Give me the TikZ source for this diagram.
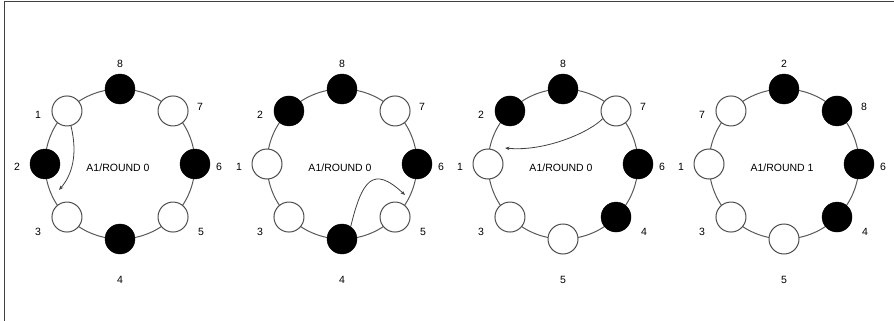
\documentclass[tikz,border=0pt]{standalone}
\usepackage{fontspec}
\setmainfont{Liberation Sans}
\usetikzlibrary{arrows.meta}
\begin{document}
\begin{tikzpicture}[x=1pt,y=1pt,
  ring/.style={draw=black!65, line width=1pt},
  wn/.style={circle, draw=black!70, line width=1pt, fill=white, minimum size=30pt, inner sep=0pt},
  bn/.style={circle, draw=black, fill=black, minimum size=30pt, inner sep=0pt},
  lab/.style={font=\fontsize{10.5}{12}\selectfont, inner sep=0pt, text=black},
  ttl/.style={font=\fontsize{10.5}{12}\selectfont, inner sep=0pt, text=black},
  mv/.style={draw=black!75, line width=0.8pt, -{Stealth[length=4.5pt,width=3.5pt]}},
  frame/.style={draw=black!75, line width=1pt}]
\useasboundingbox (0,0) rectangle (894,-321);
\coordinate (fa) at (4,-321);
\coordinate (fb) at (4,-1.5);
\coordinate (fc) at (894,-1.5);
\draw[frame] (fa) -- (fb) -- (fc);

% Panel 1
\begin{scope}[shift={(120,-164)}]
  \draw[ring] (0,0) circle (75);
  \node[bn] (a8) at (90:75) {};
  \node[wn] (a1) at (135:75) {};
  \node[bn] (a2) at (180:75) {};
  \node[wn] (a3) at (225:75) {};
  \node[bn] (a4) at (270:75) {};
  \node[wn] (a5) at (315:75) {};
  \node[bn] (a6) at (0:75) {};
  \node[wn] (a7) at (45:75) {};
  \node[lab] (a8l) at (0,100) {8};
  \node[lab] (a1l) at (-82,49) {1};
  \node[lab] (a2l) at (-103,-3) {2};
  \node[lab] (a3l) at (-82,-68) {3};
  \node[lab] (a4l) at (0,-116) {4};
  \node[lab] (a5l) at (81,-68) {5};
  \node[lab] (a6l) at (99,-3) {6};
  \node[lab] (a7l) at (80,57) {7};
  \node[ttl] (at) at (-2,-4) {A1/ROUND 0};
  \coordinate (ae) at (-61,-26);
  \draw[mv] (a1.-75) .. controls (-42,9) and (-48,-11) .. (ae);
\end{scope}

% Panel 2
\begin{scope}[shift={(342,-164)}]
  \draw[ring] (0,0) circle (75);
  \node[bn] (b8) at (90:75) {};
  \node[bn] (b2) at (135:75) {};
  \node[wn] (b1) at (180:75) {};
  \node[wn] (b3) at (225:75) {};
  \node[bn] (b4) at (270:75) {};
  \node[wn] (b5) at (315:75) {};
  \node[bn] (b6) at (0:75) {};
  \node[wn] (b7) at (45:75) {};
  \node[lab] (b8l) at (0,100) {8};
  \node[lab] (b2l) at (-82,49) {2};
  \node[lab] (b1l) at (-103,-3) {1};
  \node[lab] (b3l) at (-82,-68) {3};
  \node[lab] (b4l) at (0,-116) {4};
  \node[lab] (b5l) at (81,-68) {5};
  \node[lab] (b6l) at (99,-3) {6};
  \node[lab] (b7l) at (80,57) {7};
  \node[ttl] (bt) at (-2,-4) {A1/ROUND 0};
  \coordinate (be) at (63,-31);
  \draw[mv] (b4.55) .. controls (20,-16) and (31,-1) .. (be);
\end{scope}

% Panel 3
\begin{scope}[shift={(563,-164)}]
  \draw[ring] (0,0) circle (75);
  \node[bn] (c8) at (90:75) {};
  \node[bn] (c2) at (135:75) {};
  \node[wn] (c1) at (180:75) {};
  \node[wn] (c3) at (225:75) {};
  \node[wn] (c5) at (270:75) {};
  \node[bn] (c4) at (315:75) {};
  \node[bn] (c6) at (0:75) {};
  \node[wn] (c7) at (45:75) {};
  \node[lab] (c8l) at (0,100) {8};
  \node[lab] (c2l) at (-82,49) {2};
  \node[lab] (c1l) at (-103,-3) {1};
  \node[lab] (c3l) at (-82,-68) {3};
  \node[lab] (c5l) at (0,-116) {5};
  \node[lab] (c4l) at (81,-68) {4};
  \node[lab] (c6l) at (99,-3) {6};
  \node[lab] (c7l) at (80,57) {7};
  \node[ttl] (ct) at (-2,-4) {A1/ROUND 0};
  \coordinate (ce) at (-58,16);
  \draw[mv] (c7.210) .. controls (27,32) and (-18,12) .. (ce);
\end{scope}

% Panel 4
\begin{scope}[shift={(784,-164)}]
  \draw[ring] (0,0) circle (75);
  \node[bn] (d2) at (90:75) {};
  \node[wn] (d7) at (135:75) {};
  \node[wn] (d1) at (180:75) {};
  \node[wn] (d3) at (225:75) {};
  \node[wn] (d5) at (270:75) {};
  \node[bn] (d4) at (315:75) {};
  \node[bn] (d6) at (0:75) {};
  \node[bn] (d8) at (45:75) {};
  \node[lab] (d2l) at (0,100) {2};
  \node[lab] (d7l) at (-82,49) {7};
  \node[lab] (d1l) at (-103,-3) {1};
  \node[lab] (d3l) at (-82,-68) {3};
  \node[lab] (d5l) at (0,-116) {5};
  \node[lab] (d4l) at (81,-68) {4};
  \node[lab] (d6l) at (99,-3) {6};
  \node[lab] (d8l) at (80,57) {8};
  \node[ttl] (dt) at (-2,-4) {A1/ROUND 1};
\end{scope}
\end{tikzpicture}
\end{document}
